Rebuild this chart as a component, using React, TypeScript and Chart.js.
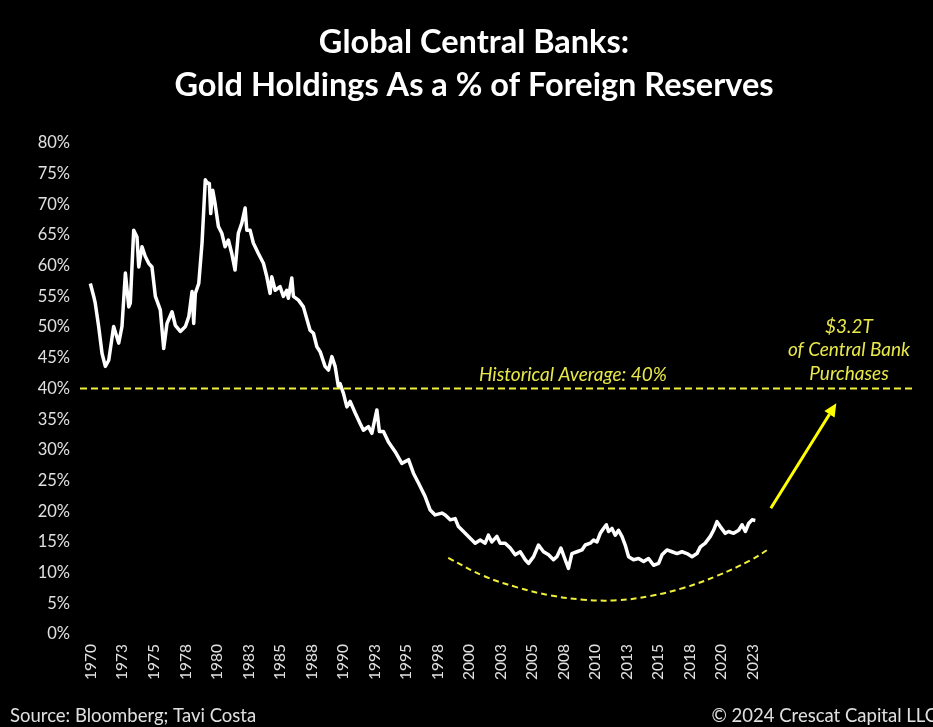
import React, { useEffect, useRef } from "react";
import { Chart, registerables } from "chart.js";

Chart.register(...registerables);

// ---- Data ----
const seriesYears = [
  1970.82, 1971.09, 1971.21, 1971.48, 1971.75, 1972.01, 1972.28, 1972.67, 1973.07, 1973.33,
  1973.6, 1973.87, 1973.99, 1974.26, 1974.52, 1974.66, 1974.92, 1975.18, 1975.45, 1975.71,
  1975.98, 1976.37, 1976.64, 1976.9, 1977.3, 1977.56, 1977.96, 1978.36, 1978.63, 1978.89,
  1979.02, 1979.15, 1979.42, 1979.68, 1979.94, 1980.06, 1980.26, 1980.37, 1980.53, 1980.71,
  1980.98, 1981.25, 1981.51, 1981.77, 1982.04, 1982.3, 1982.56, 1982.83, 1983.1, 1983.23,
  1983.49, 1983.75, 1984.15, 1984.55, 1984.82, 1985.08, 1985.21, 1985.48, 1985.87, 1986.13,
  1986.4, 1986.53, 1986.8, 1986.93, 1987.33, 1987.72, 1988.25, 1988.52, 1988.79, 1989.05,
  1989.44, 1989.71, 1989.98, 1990.24, 1990.5, 1990.63, 1990.9, 1991.17, 1991.43, 1991.83,
  1992.22, 1992.48, 1992.88, 1993.15, 1993.55, 1993.75, 1994.07, 1994.47, 1995.0, 1995.53,
  1996.06, 1996.45, 1996.85, 1997.38, 1997.78, 1998.17, 1998.71, 1998.97, 1999.37, 1999.76,
  2000.02, 2000.42, 2000.95, 2001.35, 2001.75, 2002.14, 2002.4, 2002.67, 2003.07, 2003.33,
  2003.73, 2004.13, 2004.52, 2004.92, 2005.32, 2005.58, 2005.98, 2006.37, 2006.77, 2007.17,
  2007.56, 2007.83, 2008.15, 2008.49, 2008.75, 2009.02, 2009.42, 2009.82, 2010.08, 2010.48,
  2010.74, 2011.01, 2011.27, 2011.53, 2011.75, 2011.93, 2012.2, 2012.46, 2012.72, 2012.99,
  2013.25, 2013.52, 2013.91, 2014.31, 2014.71, 2015.1, 2015.5, 2015.9, 2016.17, 2016.56,
  2016.96, 2017.36, 2017.75, 2018.15, 2018.55, 2018.94, 2019.21, 2019.6, 2020.0, 2020.26,
  2020.53, 2020.79, 2021.19, 2021.45, 2021.85, 2022.25, 2022.52, 2022.78, 2023.04, 2023.31,
  2023.57,
];
const seriesValues = [
  57.1, 55.0, 53.9, 50.1, 45.7, 43.6, 44.6, 50.1, 47.4, 50.1,
  58.8, 53.3, 53.9, 65.8, 64.7, 59.8, 63.1, 61.5, 60.4, 59.8,
  55.0, 52.8, 46.5, 50.6, 52.5, 50.3, 49.3, 50.1, 51.7, 55.8,
  50.6, 55.5, 57.1, 63.7, 74.0, 73.6, 73.4, 68.5, 72.3, 70.2,
  66.4, 65.3, 63.1, 64.2, 62.0, 59.3, 65.3, 66.9, 69.4, 65.8,
  65.8, 63.7, 62.0, 60.4, 58.2, 55.5, 58.2, 56.0, 56.6, 55.0,
  56.0, 54.7, 58.0, 55.0, 54.4, 53.3, 49.5, 49.0, 46.8, 46.0,
  43.6, 43.0, 45.2, 43.6, 40.3, 40.8, 39.2, 37.0, 37.9, 36.0,
  34.3, 33.2, 33.8, 32.7, 36.5, 33.0, 33.0, 31.3, 29.7, 27.8,
  28.4, 26.2, 24.6, 22.4, 20.2, 19.4, 19.7, 19.4, 18.6, 18.8,
  17.5, 16.7, 15.6, 14.8, 15.3, 14.8, 16.1, 15.0, 15.9, 14.8,
  14.8, 14.0, 12.9, 13.4, 12.1, 11.5, 12.6, 14.5, 13.4, 12.9,
  12.1, 12.6, 14.0, 12.1, 10.7, 13.1, 13.4, 13.7, 14.5, 14.8,
  15.3, 15.0, 16.4, 17.2, 17.8, 16.7, 17.2, 16.1, 16.9, 15.9,
  14.5, 12.6, 12.1, 12.3, 11.8, 12.3, 11.2, 11.5, 12.9, 13.7,
  13.4, 13.1, 13.4, 13.1, 12.6, 13.1, 14.2, 14.8, 15.9, 16.9,
  18.3, 17.5, 16.4, 16.7, 16.4, 16.9, 17.8, 16.7, 18.0, 18.6,
  18.5,
];

const tickYears = [
  1970.87, 1973.37, 1975.87, 1978.37, 1980.87, 1983.37, 1985.87, 1988.37, 1990.87, 1993.37, 1995.87,
  1998.37, 2000.87, 2003.37, 2005.87, 2008.37, 2010.87, 2013.37, 2015.87, 2018.37, 2020.87, 2023.37,
];
const tickLabels = [
  "1970", "1973", "1975", "1978", "1980", "1983", "1985", "1988", "1990", "1993", "1995",
  "1998", "2000", "2003", "2005", "2008", "2010", "2013", "2015", "2018", "2020", "2023",
];

const averageLevel = 40;
const averageSpan = [1970, 2036];

const curveYears = [1999.21, 2001.98, 2004.68, 2007.3, 2009.92, 2012.62, 2015.24, 2017.86, 2020.56, 2023.17, 2024.76];
const curveValues = [12.4, 9.5, 7.6, 6.3, 5.6, 5.5, 6.2, 7.5, 9.5, 12.0, 14.0];

const arrowStart = [2024.8, 20.5];
const arrowEnd = [2030.0, 37.6];

const titleLines = ["Global Central Banks:", "Gold Holdings As a % of Foreign Reserves"];
const averageLabel = "Historical Average: 40%";
const purchaseLines = ["$3.2T", "of Central Bank", "Purchases"];
const sourceText = "Source: Bloomberg; Tavi Costa";
const copyrightText = "\u00A9 2024 Crescat Capital LLC";

const FONT = "Lato, 'Open Sans', sans-serif";
const YELLOW_TEXT = "#e8e84a";
const YELLOW_LINE = "#f0f03c";

const decorPlugin = {
  id: "decor",
  beforeDraw(chart: any) {
    const { ctx, width, height } = chart;
    ctx.save();
    ctx.fillStyle = "#000000";
    ctx.fillRect(0, 0, width, height);
    ctx.restore();
  },
  afterDatasetsDraw(chart: any) {
    const { ctx } = chart;
    const xs = chart.scales.x;
    const ys = chart.scales.y;
    ctx.save();

    // Title
    ctx.fillStyle = "#ffffff";
    ctx.textAlign = "center";
    ctx.textBaseline = "middle";
    ctx.font = `bold 32.5px ${FONT}`;
    ctx.fillText(titleLines[0], 474, 43);
    ctx.fillText(titleLines[1], 474, 86);

    // Historical average label
    ctx.fillStyle = YELLOW_TEXT;
    ctx.font = `italic 19px ${FONT}`;
    ctx.fillText(averageLabel, xs.getPixelForValue(2009.1), ys.getPixelForValue(42.2));

    // Purchases label
    const px = xs.getPixelForValue(2031.0);
    ctx.fillText(purchaseLines[0], px, ys.getPixelForValue(50.0));
    ctx.fillText(purchaseLines[1], px, ys.getPixelForValue(46.3));
    ctx.fillText(purchaseLines[2], px, ys.getPixelForValue(42.4));

    // Arrow
    const x1 = xs.getPixelForValue(arrowStart[0]);
    const y1 = ys.getPixelForValue(arrowStart[1]);
    const x2 = xs.getPixelForValue(arrowEnd[0]);
    const y2 = ys.getPixelForValue(arrowEnd[1]);
    const ang = Math.atan2(y2 - y1, x2 - x1);
    const headLen = 13;
    const headW = 6;
    const bx = x2 - headLen * Math.cos(ang);
    const by = y2 - headLen * Math.sin(ang);
    ctx.strokeStyle = "#ffff00";
    ctx.fillStyle = "#ffff00";
    ctx.lineWidth = 3;
    ctx.beginPath();
    ctx.moveTo(x1, y1);
    ctx.lineTo(bx, by);
    ctx.stroke();
    ctx.beginPath();
    ctx.moveTo(x2, y2);
    ctx.lineTo(bx + headW * Math.sin(ang), by - headW * Math.cos(ang));
    ctx.lineTo(bx - headW * Math.sin(ang), by + headW * Math.cos(ang));
    ctx.closePath();
    ctx.fill();

    // Footer
    ctx.fillStyle = "#e0e0e0";
    ctx.font = `18.5px ${FONT}`;
    ctx.textBaseline = "middle";
    ctx.textAlign = "left";
    ctx.fillText(sourceText, 10, 716);
    ctx.textAlign = "right";
    ctx.fillText(copyrightText, 937, 716);

    ctx.restore();
  },
};

export default function App() {
  const ref = useRef<HTMLCanvasElement | null>(null);

  useEffect(() => {
    if (!ref.current) return;
    const mainData = seriesYears.map((x, i) => ({ x, y: seriesValues[i] }));
    const curveData = curveYears.map((x, i) => ({ x, y: curveValues[i] }));
    const avgData = averageSpan.map((x) => ({ x, y: averageLevel }));

    const chart = new Chart(ref.current, {
      type: "line",
      data: {
        datasets: [
          {
            data: avgData,
            borderColor: YELLOW_LINE,
            borderWidth: 2,
            borderDash: [7, 4],
            pointRadius: 0,
            fill: false,
          },
          {
            data: curveData,
            borderColor: YELLOW_LINE,
            borderWidth: 2,
            borderDash: [6, 4],
            pointRadius: 0,
            tension: 0.4,
            fill: false,
          },
          {
            data: mainData,
            borderColor: "#ffffff",
            borderWidth: 3.5,
            pointRadius: 0,
            tension: 0,
            fill: false,
            borderJoinStyle: "round",
          },
        ],
      },
      options: {
        animation: false,
        responsive: false,
        layout: { padding: { top: 143, right: 21, left: 0, bottom: 0 } },
        plugins: {
          legend: { display: false },
          tooltip: { enabled: false },
          title: { display: false },
        },
        scales: {
          x: {
            type: "linear",
            min: 1970,
            max: 2036,
            grid: { display: false, drawTicks: false },
            border: { display: false },
            afterBuildTicks: (scale: any) => {
              scale.ticks = tickYears.map((v) => ({ value: v }));
            },
            afterFit: (scale: any) => {
              scale.height = 93;
            },
            ticks: {
              autoSkip: false,
              minRotation: 90,
              maxRotation: 90,
              padding: 10,
              color: "#e0e0e0",
              font: { family: FONT, size: 15.5 },
              callback: (_v: any, i: number) => tickLabels[i],
            },
          },
          y: {
            min: 0,
            max: 80,
            grid: { display: false, drawTicks: false },
            border: { display: false },
            afterFit: (scale: any) => {
              scale.width = 80;
            },
            ticks: {
              stepSize: 5,
              padding: 10,
              color: "#e0e0e0",
              font: { family: FONT, size: 16.5 },
              callback: (v: any) => `${v}%`,
            },
          },
        },
      },
      plugins: [decorPlugin],
    } as any);

    return () => chart.destroy();
  }, []);

  return (
    <div style={{ position: "fixed", left: 0, top: 0, width: 933, height: 727, background: "#000" }}>
      <canvas ref={ref} width={933} height={727} style={{ display: "block", width: 933, height: 727 }} />
    </div>
  );
}
